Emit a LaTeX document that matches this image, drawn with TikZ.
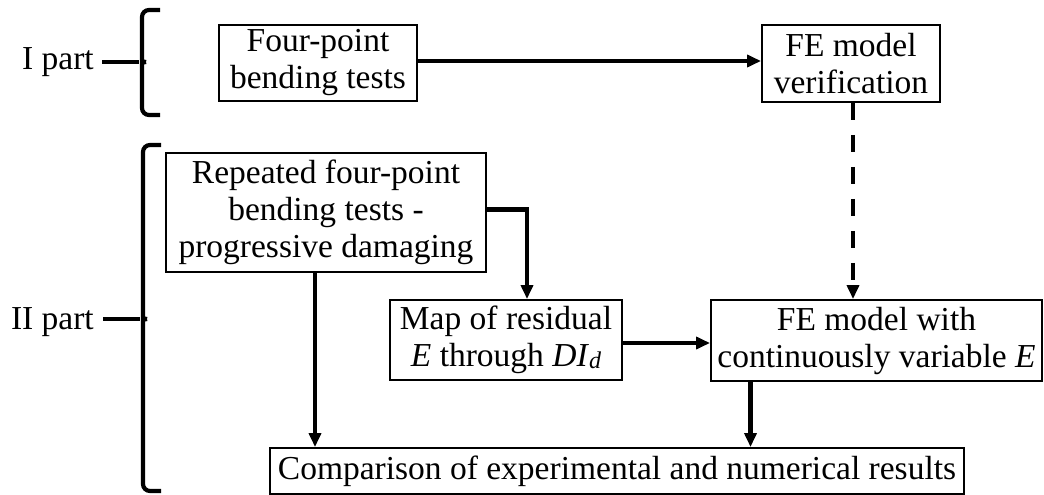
\documentclass[tikz,border=0pt]{standalone}
\usepackage{fontspec}
\setmainfont{Liberation Serif}
\usetikzlibrary{arrows.meta}
\tikzset{
  box/.style={draw=black, line width=1.9pt, inner sep=0pt, align=center,
    font=\fontsize{33.5}{37}\selectfont},
  lbl/.style={inner sep=0pt, font=\fontsize{33.5}{37}\selectfont},
  arr/.style={line width=4.2pt, -{Triangle[length=14pt,width=12pt]}},
  dasharr/.style={arr, dash pattern=on 17pt off 15pt},
  bracket/.style={line width=4.2pt, rounded corners=7pt},
  tick/.style={line width=4.2pt}
}
\begin{document}
\begin{tikzpicture}[x=1pt,y=-1pt]
\useasboundingbox (0,0) rectangle (1044,495);
% boxes
\node[box, minimum width=198pt, minimum height=76pt] (A) at (318,63) {Four-point\\bending tests};
\node[box, minimum width=178pt, minimum height=77pt] (B) at (851,63.5) {FE model\\verification};
\node[box, minimum width=320pt, minimum height=119pt] (C) at (326,212.5) {Repeated four-point\\bending tests -\\progressive damaging};
\node[box, minimum width=232pt, minimum height=80pt] (D) at (506,340) {Map of residual\\\textit{E} through \textit{DI}\raisebox{-2pt}{\fontsize{24}{24}\selectfont\textit{d}}};
\node[box, minimum width=331pt, minimum height=81pt] (E) at (876.5,340.5) {FE model with\\continuously variable \textit{E}};
\node[box, minimum width=694pt, minimum height=46pt] (F) at (617,471) {Comparison of experimental and numerical results};
% labels and brackets
\node[lbl, anchor=base east] (L1) at (94,70) {I part};
\node[lbl, anchor=base east] (L2) at (94,329) {II part};
\coordinate (t1) at (139,62);
\coordinate (t2) at (140,319);
\draw[bracket] (160,10) -- (142,10) -- (142,54) .. controls (142,59) and (141,62) .. (t1) .. controls (141,62) and (142,65) .. (142,70) -- (142,115) -- (160,115);
\draw[tick] ([xshift=8pt]L1.east |- t1) -- (t1);
\draw[bracket] (161,145) -- (143,145) -- (143,311) .. controls (143,316) and (142,319) .. (t2) .. controls (142,319) and (143,322) .. (143,327) -- (143,491) -- (161,491);
\draw[tick] ([xshift=9pt]L2.east |- t2) -- (t2);
% connectors
\draw[arr] ([yshift=2pt]A.east) -- ([yshift=2pt]A.east -| B.west);
\draw[dasharr] ([xshift=2pt]B.south) -- ([xshift=2pt]B.south |- E.north);
\draw[arr] ([yshift=3pt]C.east) -| ([xshift=21pt]D.north);
\draw[arr] ([xshift=-11pt]C.south) -- ([xshift=-11pt]C.south |- F.north);
\draw[arr] ([yshift=-3pt]D.east) -- ([yshift=-3pt]D.east -| E.west);
\draw[arr] ([xshift=-126pt]E.south) -- ([xshift=-126pt]E.south |- F.north);
\end{tikzpicture}
\end{document}
